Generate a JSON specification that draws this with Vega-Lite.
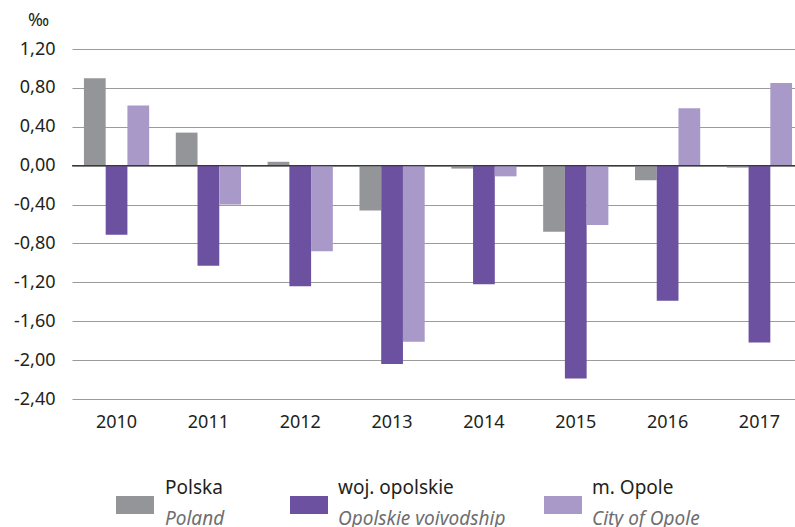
{
  "$schema": "https://vega.github.io/schema/vega-lite/v6.json",
  "autosize": "none",
  "width": 732,
  "height": 350,
  "padding": {"left": 72, "top": 49, "right": 0, "bottom": 128},
  "background": "white",
  "config": {
    "view": {"stroke": null},
    "font": "Noto Sans",
    "axis": {"labelFont": "Noto Sans", "titleFont": "Noto Sans"},
    "legend": {"labelFont": "Noto Sans", "titleFont": "Noto Sans"}
  },
  "data": {
    "values": [
      {"year": "2010", "key": "P", "pl": "Polska", "en": "Poland", "value": 0.90},
      {"year": "2010", "key": "W", "pl": "woj. opolskie", "en": "Opolskie voivodship", "value": -0.71},
      {"year": "2010", "key": "O", "pl": "m. Opole", "en": "City of Opole", "value": 0.62},
      {"year": "2011", "key": "P", "pl": "Polska", "en": "Poland", "value": 0.34},
      {"year": "2011", "key": "W", "pl": "woj. opolskie", "en": "Opolskie voivodship", "value": -1.03},
      {"year": "2011", "key": "O", "pl": "m. Opole", "en": "City of Opole", "value": -0.40},
      {"year": "2012", "key": "P", "pl": "Polska", "en": "Poland", "value": 0.04},
      {"year": "2012", "key": "W", "pl": "woj. opolskie", "en": "Opolskie voivodship", "value": -1.24},
      {"year": "2012", "key": "O", "pl": "m. Opole", "en": "City of Opole", "value": -0.88},
      {"year": "2013", "key": "P", "pl": "Polska", "en": "Poland", "value": -0.46},
      {"year": "2013", "key": "W", "pl": "woj. opolskie", "en": "Opolskie voivodship", "value": -2.04},
      {"year": "2013", "key": "O", "pl": "m. Opole", "en": "City of Opole", "value": -1.81},
      {"year": "2014", "key": "P", "pl": "Polska", "en": "Poland", "value": -0.03},
      {"year": "2014", "key": "W", "pl": "woj. opolskie", "en": "Opolskie voivodship", "value": -1.22},
      {"year": "2014", "key": "O", "pl": "m. Opole", "en": "City of Opole", "value": -0.11},
      {"year": "2015", "key": "P", "pl": "Polska", "en": "Poland", "value": -0.68},
      {"year": "2015", "key": "W", "pl": "woj. opolskie", "en": "Opolskie voivodship", "value": -2.19},
      {"year": "2015", "key": "O", "pl": "m. Opole", "en": "City of Opole", "value": -0.61},
      {"year": "2016", "key": "P", "pl": "Polska", "en": "Poland", "value": -0.15},
      {"year": "2016", "key": "W", "pl": "woj. opolskie", "en": "Opolskie voivodship", "value": -1.39},
      {"year": "2016", "key": "O", "pl": "m. Opole", "en": "City of Opole", "value": 0.59},
      {"year": "2017", "key": "P", "pl": "Polska", "en": "Poland", "value": -0.02},
      {"year": "2017", "key": "W", "pl": "woj. opolskie", "en": "Opolskie voivodship", "value": -1.82},
      {"year": "2017", "key": "O", "pl": "m. Opole", "en": "City of Opole", "value": 0.85}
    ]
  },
  "layer": [
    {
      "transform": [{"filter": "datum.key === 'P'"}],
      "mark": {"type": "bar"},
      "encoding": {
        "x": {"field": "year", "type": "nominal", "scale": {"paddingInner": 0.29, "paddingOuter": 0.13},
          "axis": {"title": null, "labelAngle": 0, "domain": false, "ticks": false, "grid": false, "labelPadding": 14, "labelFontSize": 18, "labelColor": "#231f20"}},
        "xOffset": {"field": "key", "type": "nominal", "scale": {"domain": ["P", "W", "O"]}},
        "y": {"field": "value", "type": "quantitative", "scale": {"domain": [-2.4, 1.2], "nice": false, "zero": false},
          "axis": {"values": [-2.4, -2, -1.6, -1.2, -0.8, -0.4, 0, 0.4, 0.8, 1.2], "tickCount": 20,
            "labelExpr": "replace(replace(format(datum.value, '.2f'), '.', ','), '\u2212', '-')",
            "labelOverlap": false, "labelFlush": false,
            "grid": true, "gridColor": "#9b9b9b", "gridWidth": 1, "domain": false, "ticks": false,
            "labelPadding": 17, "labelFontSize": 18, "labelColor": "#231f20",
            "title": "‰", "titleAngle": 0, "titleX": -34, "titleY": -29, "titleAlign": "center", "titleBaseline": "middle",
            "titleFontSize": 18, "titleFontWeight": "normal", "titleColor": "#231f20"}},
        "color": {"field": "key", "type": "nominal", "scale": {"domain": ["P"], "range": ["#939598"]},
          "legend": {"orient": "none", "legendX": 44, "legendY": 437, "title": null, "padding": 0,
            "symbolType": "M-1,-0.474L1,-0.474L1,0.474L-1,0.474Z", "symbolSize": 1444, "symbolStrokeWidth": 0, "labelExpr": "''", "labelOffset": 0}},
        "opacity": {"field": "pl", "type": "nominal", "scale": {"range": [1, 1]},
          "legend": {"orient": "none", "legendX": 93, "legendY": 429, "title": "Poland", "padding": 0, "symbolSize": 0, "symbolOpacity": 0,
            "labelOffset": -19, "labelFontSize": 19, "labelColor": "#231f20", "labelLimit": 400,
            "titleOrient": "bottom", "titleAnchor": "start", "titlePadding": 12, "titleFontSize": 19, "titleFontStyle": "italic",
            "titleFontWeight": "normal", "titleColor": "#6d6e71", "titleLimit": 400}}
      }
    },
    {
      "transform": [{"filter": "datum.key === 'W'"}],
      "mark": {"type": "bar"},
      "encoding": {
        "x": {"field": "year", "type": "nominal"},
        "xOffset": {"field": "key", "type": "nominal", "scale": {"domain": ["P", "W", "O"]}},
        "y": {"field": "value", "type": "quantitative"},
        "color": {"field": "key", "type": "nominal", "scale": {"domain": ["W"], "range": ["#6b51a0"]},
          "legend": {"orient": "none", "legendX": 218, "legendY": 437, "title": null, "padding": 0,
            "symbolType": "M-1,-0.474L1,-0.474L1,0.474L-1,0.474Z", "symbolSize": 1444, "symbolStrokeWidth": 0, "labelExpr": "''", "labelOffset": 0}},
        "opacity": {"field": "pl", "type": "nominal", "scale": {"range": [1, 1]},
          "legend": {"orient": "none", "legendX": 266, "legendY": 429, "title": "Opolskie voivodship", "padding": 0, "symbolSize": 0, "symbolOpacity": 0,
            "labelOffset": -19, "labelFontSize": 19, "labelColor": "#231f20", "labelLimit": 400,
            "titleOrient": "bottom", "titleAnchor": "start", "titlePadding": 12, "titleFontSize": 19, "titleFontStyle": "italic",
            "titleFontWeight": "normal", "titleColor": "#6d6e71", "titleLimit": 400}}
      }
    },
    {
      "transform": [{"filter": "datum.key === 'O'"}],
      "mark": {"type": "bar"},
      "encoding": {
        "x": {"field": "year", "type": "nominal"},
        "xOffset": {"field": "key", "type": "nominal", "scale": {"domain": ["P", "W", "O"]}},
        "y": {"field": "value", "type": "quantitative"},
        "color": {"field": "key", "type": "nominal", "scale": {"domain": ["O"], "range": ["#a999c9"]},
          "legend": {"orient": "none", "legendX": 472, "legendY": 437, "title": null, "padding": 0,
            "symbolType": "M-1,-0.474L1,-0.474L1,0.474L-1,0.474Z", "symbolSize": 1444, "symbolStrokeWidth": 0, "labelExpr": "''", "labelOffset": 0}},
        "opacity": {"field": "pl", "type": "nominal", "scale": {"range": [1, 1]},
          "legend": {"orient": "none", "legendX": 520, "legendY": 429, "title": "City of Opole", "padding": 0, "symbolSize": 0, "symbolOpacity": 0,
            "labelOffset": -19, "labelFontSize": 19, "labelColor": "#231f20", "labelLimit": 400,
            "titleOrient": "bottom", "titleAnchor": "start", "titlePadding": 12, "titleFontSize": 19, "titleFontStyle": "italic",
            "titleFontWeight": "normal", "titleColor": "#6d6e71", "titleLimit": 400}}
      }
    },
    {
      "data": {"values": [{"zero": 0}]},
      "mark": {"type": "rule", "color": "#3a3a3a", "strokeWidth": 1.2},
      "encoding": {"y": {"field": "zero", "type": "quantitative"}}
    }
  ],
  "resolve": {"scale": {"color": "independent", "opacity": "independent"}}
}
